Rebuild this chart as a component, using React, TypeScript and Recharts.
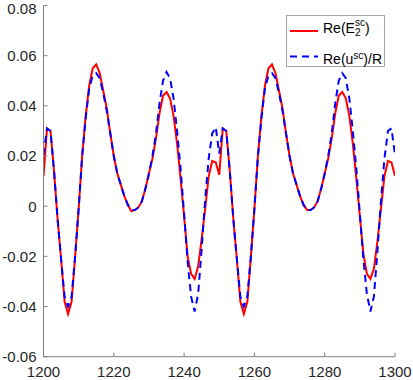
import React from "react";
import { LineChart, Line, XAxis, YAxis } from "recharts";

// x positions (one sample per unit)
const xValues = [
  1200, 1201, 1202, 1203, 1204, 1205, 1206, 1207, 1208, 1209,
  1210, 1211, 1212, 1213, 1214, 1215, 1216, 1217, 1218, 1219,
  1220, 1221, 1222, 1223, 1224, 1225, 1226, 1227, 1228, 1229,
  1230, 1231, 1232, 1233, 1234, 1235, 1236, 1237, 1238, 1239,
  1240, 1241, 1242, 1243, 1244, 1245, 1246, 1247, 1248, 1249,
  1250, 1251, 1252, 1253, 1254, 1255, 1256, 1257, 1258, 1259,
  1260, 1261, 1262, 1263, 1264, 1265, 1266, 1267, 1268, 1269,
  1270, 1271, 1272, 1273, 1274, 1275, 1276, 1277, 1278, 1279,
  1280, 1281, 1282, 1283, 1284, 1285, 1286, 1287, 1288, 1289,
  1290, 1291, 1292, 1293, 1294, 1295, 1296, 1297, 1298, 1299,
  1300,
];

// Re(E2^sc)
const reE2 = [
  0.012, 0.031, 0.030, 0.014, -0.005, -0.021, -0.038, -0.043, -0.038, -0.020,
  -0.001, 0.020, 0.036, 0.048, 0.055, 0.0565, 0.053, 0.046, 0.039, 0.029,
  0.020, 0.013, 0.0085, 0.004, 0.0005, -0.002, -0.0015, -0.0005, 0.002, 0.007,
  0.013, 0.019, 0.027, 0.037, 0.044, 0.0455, 0.043, 0.036, 0.025, 0.011,
  -0.004, -0.020, -0.027, -0.029, -0.024, -0.013, -0.001, 0.012, 0.018, 0.0175,
  0.0125, 0.031, 0.030, 0.014, -0.005, -0.021, -0.038, -0.043, -0.038, -0.020,
  -0.001, 0.020, 0.036, 0.048, 0.055, 0.0565, 0.053, 0.046, 0.039, 0.029,
  0.020, 0.013, 0.0085, 0.004, 0.0005, -0.0015, -0.0015, -0.0005, 0.002, 0.007,
  0.013, 0.019, 0.027, 0.037, 0.044, 0.0455, 0.043, 0.036, 0.025, 0.011,
  -0.004, -0.019, -0.027, -0.029, -0.025, -0.014, -0.001, 0.012, 0.018, 0.0175,
  0.012,
];

// Re(u^sc)/R
const reU = [
  0.0205, 0.031, 0.030, 0.014, -0.005, -0.021, -0.036, -0.040, -0.036, -0.020,
  -0.001, 0.020, 0.035, 0.047, 0.052, 0.053, 0.051, 0.045, 0.038, 0.029,
  0.020, 0.013, 0.0085, 0.004, 0.0005, -0.0015, -0.0015, -0.0005, 0.002, 0.007,
  0.013, 0.020, 0.029, 0.041, 0.050, 0.0535, 0.051, 0.043, 0.030, 0.015,
  -0.003, -0.022, -0.036, -0.042, -0.035, -0.017, 0.003, 0.019, 0.029, 0.0315,
  0.021, 0.031, 0.030, 0.014, -0.005, -0.021, -0.036, -0.040, -0.036, -0.020,
  -0.001, 0.020, 0.035, 0.047, 0.052, 0.053, 0.051, 0.045, 0.038, 0.029,
  0.020, 0.013, 0.0085, 0.004, 0.0005, -0.0015, -0.0015, -0.0005, 0.002, 0.007,
  0.013, 0.020, 0.029, 0.041, 0.050, 0.053, 0.051, 0.043, 0.030, 0.015,
  -0.003, -0.021, -0.035, -0.042, -0.036, -0.018, 0.002, 0.019, 0.030, 0.031,
  0.0205,
];

const xTicks = [1200, 1220, 1240, 1260, 1280, 1300];
const yTicks = [-0.06, -0.04, -0.02, 0, 0.02, 0.04, 0.06, 0.08];

const data = xValues.map((x, i) => ({ x, e2: reE2[i], u: reU[i] }));

const FONT = '"Liberation Sans", Arial, Helvetica, sans-serif';
const AXIS = "#7f7f7f";
const TEXT = "#262626";

const fmtY = (v: number) => (v === 0 ? "0" : v.toFixed(2));

// legend drawn as a plain box on top of the chart (MATLAB style)
const LegendBox = () => (
  <div
    style={{
      position: "absolute",
      left: 286,
      top: 15,
      width: 99,
      height: 52,
      boxSizing: "border-box",
      border: "1px solid #a6a6a6",
      background: "#fff",
      fontFamily: FONT,
      fontSize: 14,
      color: "#000",
    }}
  >
    <svg width={99} height={52} style={{ position: "absolute", left: -1, top: -1 }}>
      <line x1={4} x2={32} y1={16} y2={16} stroke="#ff0000" strokeWidth={2} />
      <line x1={4} x2={32} y1={41.5} y2={41.5} stroke="#0000ff" strokeWidth={2} strokeDasharray="7 5" />
    </svg>
    <div style={{ position: "absolute", left: 36, top: 4, whiteSpace: "nowrap", lineHeight: "16px" }}>
      Re(E
      <span
        style={{
          display: "inline-flex",
          flexDirection: "column",
          verticalAlign: "middle",
          fontSize: 10,
          lineHeight: "10px",
          marginTop: -2,
        }}
      >
        <span>sc</span>
        <span>2</span>
      </span>
      )
    </div>
    <div style={{ position: "absolute", left: 36, top: 32, whiteSpace: "nowrap", lineHeight: "16px" }}>
      Re(u
      <span style={{ fontSize: 10, verticalAlign: 5 }}>sc</span>
      )/R
    </div>
  </div>
);

export default function App() {
  return (
    <div style={{ position: "absolute", left: 0, top: 0, width: 413, height: 380, background: "#fff" }}>
      <LineChart
        width={413}
        height={380}
        data={data}
        margin={{ top: 5.5, right: 18, bottom: 0, left: 0 }}
        style={{ fontFamily: FONT }}
      >
        <XAxis
          dataKey="x"
          type="number"
          domain={[1200, 1300]}
          ticks={xTicks}
          height={23.3}
          tickSize={-4}
          tickMargin={14}
          axisLine={{ stroke: AXIS }}
          tickLine={{ stroke: AXIS }}
          tick={{ fill: TEXT, fontSize: 15 }}
          allowDataOverflow
        />
        <YAxis
          type="number"
          domain={[-0.06, 0.08]}
          ticks={yTicks}
          width={43.5}
          tickSize={-4}
          tickMargin={11}
          tickFormatter={fmtY}
          axisLine={{ stroke: AXIS }}
          tickLine={{ stroke: AXIS }}
          tick={{ fill: TEXT, fontSize: 15 }}
          allowDataOverflow
        />
        <Line
          type="linear"
          dataKey="e2"
          name="Re(E2sc)"
          stroke="#ff0000"
          strokeWidth={2}
          dot={false}
          isAnimationActive={false}
        />
        <Line
          type="linear"
          dataKey="u"
          name="Re(usc)/R"
          stroke="#0000ff"
          strokeWidth={2}
          strokeDasharray="7 5"
          dot={false}
          isAnimationActive={false}
        />
      </LineChart>
      <LegendBox />
    </div>
  );
}
